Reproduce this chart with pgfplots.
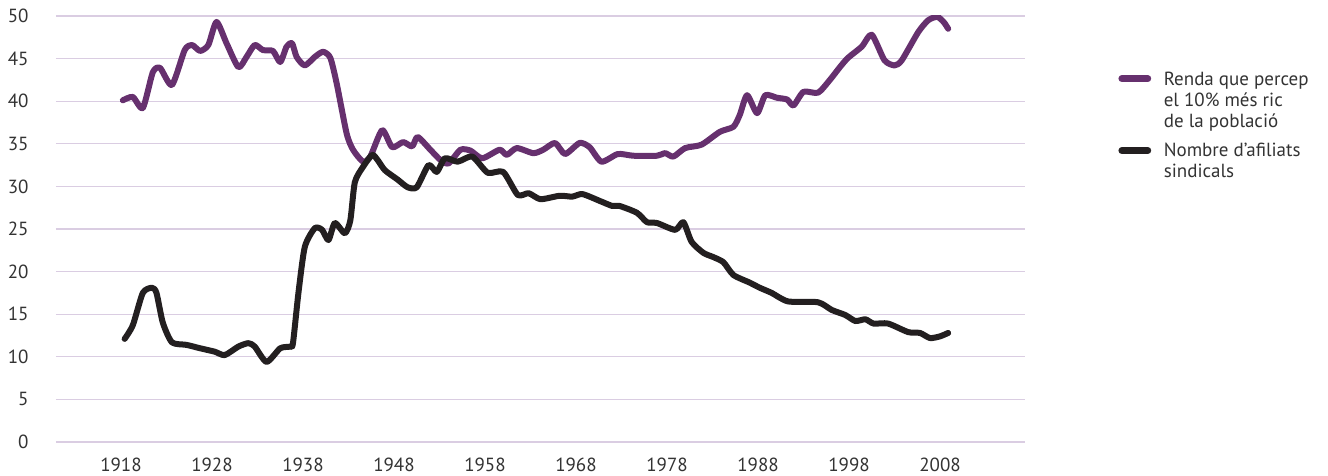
\documentclass[border=0pt]{standalone}
\usepackage{pgfplots}
\pgfplotsset{compat=1.18}
\usepackage{fontspec}
\setmainfont{PT Sans}
\definecolor{purp}{HTML}{66306E}
\definecolor{blk}{HTML}{231F20}
\definecolor{gridc}{HTML}{DACDE2}
\definecolor{txt}{HTML}{333333}
\begin{document}
\begin{tikzpicture}
\begin{axis}[
  at={(28pt,17pt)}, anchor=south west,
  scale only axis, width=484.5pt, height=213pt,
  xmin=1910.86, xmax=2017.34, ymin=0, ymax=50,
  xtick={1918,1928,...,2008}, ytick={0,5,...,50},
  axis line style={draw=none},
  major tick length=0pt,
  ymajorgrids, grid style={gridc, line width=0.6pt},
  /pgf/number format/assume math mode=true,
  /pgf/number format/1000 sep={},
  tick label style={font=\fontsize{9.5pt}{11pt}\selectfont, text=txt},
  xticklabel style={inner sep=0pt, anchor=north, yshift=-8pt},
  yticklabel style={inner sep=0pt, anchor=east, xshift=-13.5pt},
  legend style={at={(1.096,0.878)}, anchor=north west, draw=none, fill=none,
    inner sep=0pt, font=\fontsize{9.5pt}{10.5pt}\selectfont, text=txt,
    cells={align=left, anchor=west}, row sep=2pt},
  legend cell align=left,
]
\addplot[purp, line width=3pt, smooth, tension=0.4, line join=round, line cap=round,
  legend image code/.code={\draw[purp, line width=3.4pt, line cap=round] (0pt,11.5pt) -- (13pt,11.5pt);
    \path[draw=none, fill=none] (0pt,11.5pt) -- (19pt,11.5pt);}]
coordinates {
(1918.2,40.1) (1919.3,40.5) (1920.4,39.2) (1921.5,43.4) (1922.3,43.9) (1923.6,41.9)
(1925.0,46.0) (1925.8,46.6) (1926.7,45.9) (1927.6,46.6) (1928.5,49.3) (1929.6,46.8)
(1930.9,44.0) (1931.8,45.2) (1932.7,46.6) (1933.6,46.0) (1934.7,45.9) (1935.5,44.6)
(1936.2,46.4) (1936.8,46.8) (1937.3,45.2) (1938.2,44.2) (1939.3,45.2) (1940.2,45.8)
(1941.0,45.1) (1941.7,42.1) (1942.8,36.2) (1943.5,34.3) (1944.6,32.9) (1945.4,33.5)
(1946.7,36.6) (1947.8,34.6) (1949.0,35.2) (1950.0,34.7) (1950.6,35.8) (1952.0,34.3)
(1953.1,33.1) (1954.0,32.7) (1955.3,34.3) (1956.4,34.2) (1957.7,33.3) (1959.6,34.3)
(1960.4,33.7) (1961.5,34.5) (1963.3,33.9) (1964.4,34.3) (1965.7,35.1) (1966.8,33.8)
(1968.4,35.1) (1969.5,34.6) (1970.8,32.9) (1972.6,33.8) (1974.3,33.6) (1976.9,33.6)
(1977.8,33.9) (1978.7,33.5) (1980.0,34.5) (1981.8,34.9) (1983.8,36.4) (1985.3,37.0)
(1986.0,38.4) (1986.8,40.7) (1987.9,38.6) (1988.8,40.7) (1990.1,40.4) (1991.2,40.2)
(1991.9,39.5) (1993.0,41.1) (1994.6,41.0) (1995.9,42.5) (1997.0,44.0) (1997.9,45.1)
(1999.4,46.4) (2000.5,47.8) (2001.9,44.8) (2003.0,44.2) (2003.8,44.8) (2005.6,48.1)
(2006.7,49.5) (2007.7,49.9) (2008.4,49.3) (2008.9,48.5)
};
\addlegendentry{Renda que percep\\el 10\% més ric\\de la població}
\addplot[blk, line width=3pt, smooth, tension=0.4, line join=round, line cap=round,
  legend image code/.code={\draw[blk, line width=3.4pt, line cap=round] (0pt,5.5pt) -- (13pt,5.5pt);
    \path[draw=none, fill=none] (0pt,5.5pt) -- (19pt,5.5pt);}]
coordinates {
(1918.4,12.1) (1919.3,13.7) (1920.4,17.5) (1921.4,18.1) (1921.9,17.5) (1922.6,14.0)
(1923.6,11.7) (1925.2,11.4) (1926.7,11.0) (1928.3,10.6) (1929.4,10.2) (1930.9,11.2)
(1932.0,11.6) (1932.7,11.2) (1934.0,9.4) (1935.5,11.0) (1936.6,11.2) (1936.9,11.6)
(1937.5,17.5) (1938.2,22.9) (1939.3,25.1) (1940.1,24.9) (1940.8,23.7) (1941.5,25.7)
(1942.6,24.5) (1943.2,26.0) (1943.7,30.5) (1944.6,32.3) (1945.6,33.7) (1946.2,33.1)
(1947.0,31.9) (1948.4,30.8) (1949.5,29.9) (1950.5,29.9) (1951.8,32.5) (1952.7,31.7)
(1953.6,33.3) (1955.0,32.9) (1956.6,33.5) (1958.3,31.6) (1960.0,31.7) (1961.6,29.0)
(1962.8,29.2) (1964.1,28.5) (1966.2,28.9) (1967.6,28.8) (1968.7,29.1) (1970.6,28.3)
(1972.0,27.7) (1972.8,27.7) (1974.7,26.9) (1975.8,25.8) (1976.9,25.7) (1978.9,24.9)
(1979.8,25.8) (1980.7,23.5) (1982.0,22.2) (1983.1,21.7) (1984.2,21.1) (1985.3,19.6)
(1987.1,18.7) (1988.2,18.1) (1989.5,17.5) (1991.3,16.5) (1994.6,16.4) (1996.1,15.5)
(1997.6,14.9) (1998.7,14.2) (1999.8,14.4) (2000.7,13.9) (2002.3,13.9) (2004.5,12.9)
(2005.8,12.8) (2006.9,12.2) (2008.0,12.4) (2008.9,12.8)
};
\addlegendentry{Nombre d'afiliats\\sindicals}
\end{axis}
\pgfresetboundingbox
\path[use as bounding box] (0pt,0pt) rectangle (664pt,238pt);
\end{tikzpicture}
\end{document}
